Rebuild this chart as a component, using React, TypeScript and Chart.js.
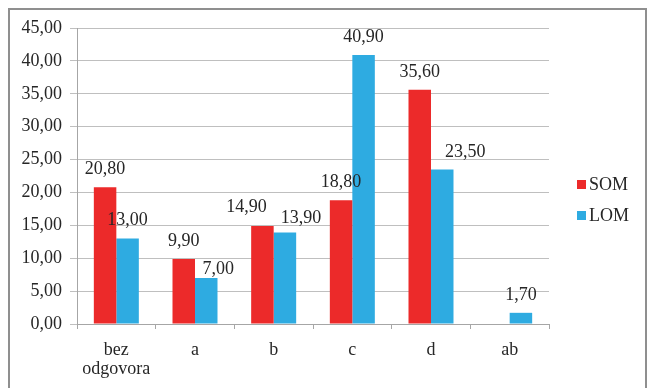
import React, { useEffect, useRef } from "react";
import { Chart, registerables } from "chart.js";

Chart.register(...registerables);

const categories: string[][] = [["bez", "odgovora"], ["a"], ["b"], ["c"], ["d"], ["ab"]];
const somValues: (number | null)[] = [20.8, 9.9, 14.9, 18.8, 35.6, null];
const lomValues: (number | null)[] = [13.0, 7.0, 13.9, 40.9, 23.5, 1.7];
const seriesNames = ["SOM", "LOM"];
const seriesColors = ["#ec2a2a", "#2eabe1"];

const FONT = '"Liberation Serif", "Times New Roman", serif';
const fmt = (v: number) => v.toFixed(2).replace(".", ",");

// Hand-placed label nudges (dataset:index -> [dx, dy]) so close labels don't collide
const labelNudge: Record<string, [number, number]> = {
  "1:1": [12, 9],
  "0:2": [-16, -1],
  "1:2": [16, 3],
  "1:4": [23, 1],
};

// Value labels above each bar
const valueLabels = {
  id: "valueLabels",
  afterDatasetsDraw(chart: any) {
    const ctx = chart.ctx;
    ctx.save();
    ctx.font = `18px ${FONT}`;
    ctx.fillStyle = "#262626";
    ctx.textAlign = "center";
    ctx.textBaseline = "alphabetic";
    chart.data.datasets.forEach((ds: any, i: number) => {
      const meta = chart.getDatasetMeta(i);
      meta.data.forEach((el: any, j: number) => {
        const v = ds.data[j];
        if (v === null || v === undefined) return;
        const [dx, dy] = labelNudge[`${i}:${j}`] || [0, 0];
        ctx.fillText(fmt(v), el.x + dx, el.y - 13 + dy);
      });
    });
    ctx.restore();
  },
};

// Legend on the right side
const sideLegend = {
  id: "sideLegend",
  afterDraw(chart: any) {
    const ctx = chart.ctx;
    ctx.save();
    ctx.font = `18px ${FONT}`;
    ctx.textBaseline = "middle";
    ctx.textAlign = "left";
    const ys = [185, 216];
    seriesNames.forEach((name, i) => {
      ctx.fillStyle = seriesColors[i];
      ctx.fillRect(577, ys[i] - 5, 9, 9);
      ctx.fillStyle = "#262626";
      ctx.fillText(name, 589, ys[i]);
    });
    ctx.restore();
  },
};

export default function App() {
  const ref = useRef<HTMLCanvasElement | null>(null);

  useEffect(() => {
    if (!ref.current) return;
    const chart = new Chart(ref.current, {
      type: "bar",
      data: {
        labels: categories,
        datasets: [
          { label: seriesNames[0], data: somValues, backgroundColor: seriesColors[0], categoryPercentage: 0.572, barPercentage: 1 },
          { label: seriesNames[1], data: lomValues, backgroundColor: seriesColors[1], categoryPercentage: 0.572, barPercentage: 1 },
        ],
      },
      options: {
        animation: false,
        responsive: false,
        devicePixelRatio: 1,
        layout: { padding: { left: 0, top: 28, right: 102, bottom: 0 } },
        plugins: { legend: { display: false }, tooltip: { enabled: false } },
        scales: {
          x: {
            grid: { drawOnChartArea: false, drawTicks: true, tickLength: 5, color: "#a6a6a6" },
            border: { display: true, color: "#a6a6a6", width: 1 },
            ticks: { color: "#262626", font: { family: FONT, size: 18, lineHeight: 1.1 }, padding: 11, maxRotation: 0, autoSkip: false },
            afterFit: (s: any) => { s.height = 64; },
          },
          y: {
            min: 0,
            max: 45,
            ticks: { stepSize: 5, color: "#262626", font: { family: FONT, size: 18 }, padding: 8, callback: (v: any) => fmt(Number(v)) },
            grid: { color: "#bfbfbf", tickLength: 7, lineWidth: 1 },
            border: { display: true, color: "#a6a6a6", width: 1 },
            afterFit: (s: any) => { s.width = 77; },
          },
        },
      },
      plugins: [valueLabels, sideLegend],
    });
    return () => chart.destroy();
  }, []);

  return (
    <div style={{ position: "fixed", left: 0, top: 0, width: 651, height: 388, background: "#fff", overflow: "hidden" }}>
      <div style={{ position: "absolute", left: 8, top: 8, width: 639, height: 420, border: "2px solid #8f8f8f", boxSizing: "border-box" }} />
      <canvas ref={ref} width={651} height={388} style={{ position: "absolute", left: 0, top: 0, width: 651, height: 388 }} />
    </div>
  );
}
